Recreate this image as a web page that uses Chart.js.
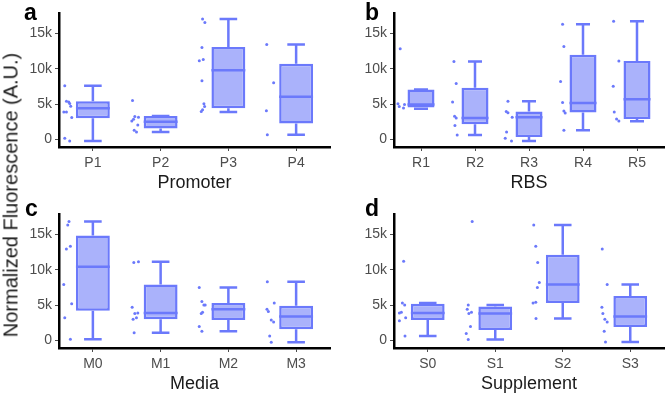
<!DOCTYPE html>
<html>
<head>
<meta charset="utf-8">
<script src="https://cdn.jsdelivr.net/npm/chart.js@4"></script>
<style>
  html, body { margin: 0; padding: 0; background: #fff; width: 668px; height: 396px; overflow: hidden; }
  body { position: relative; font-family: "Liberation Sans", Arial, sans-serif; }
  canvas { position: absolute; }
  .tag { position: absolute; font-weight: bold; font-size: 23px; line-height: 1; color: #000; }
  #ytitle { position: absolute; left: 11px; top: 195px; transform: translate(-50%, -50%) rotate(-90deg);
            white-space: nowrap; font-size: 20px; color: #1a1a1a; }
</style>
</head>
<body>
<canvas id="ca" width="314" height="198" style="left:20px;top:0px"></canvas>
<canvas id="cb" width="313" height="198" style="left:355px;top:0px"></canvas>
<canvas id="cc" width="314" height="198" style="left:20px;top:201px"></canvas>
<canvas id="cd" width="313" height="198" style="left:355px;top:201px"></canvas>
<div class="tag" style="left:24px;top:1px">a</div>
<div class="tag" style="left:365px;top:1px">b</div>
<div class="tag" style="left:25px;top:197px">c</div>
<div class="tag" style="left:365px;top:197px">d</div>
<div id="ytitle">Normalized Fluorescence (A.U.)</div>
<script>
// ---------------- data ----------------
const yTickValues = [0, 5000, 10000, 15000];
const yTickLabels = ["0", "5k", "10k", "15k"];

const promoterLabels = ["P1", "P2", "P3", "P4"];
const promoterMin    = [-200, 1050, 3900, 670];
const promoterQ1     = [3000, 1570, 4430, 2280];
const promoterMedian = [4400, 2520, 9760, 6050];
const promoterQ3     = [5400, 3330, 13040, 10700];
const promoterMax    = [7600, 3330, 17000, 13400];
const promoterPoints = [
  [7600, 5400, 5300, 5100, 4700, 3900, 3900, 3100, 200, -200],
  [5500, 3240, 3140, 2860, 2620, 2050, 1330, 1050],
  [17000, 16500, 13000, 11300, 11100, 8300, 5050, 4660, 4190, 3950],
  [13400, 8000, 4050, 670]
];
const promoterJitter = [
  [-0.415, -0.39, -0.356, -0.342, -0.327, -0.429, -0.39, -0.312, -0.415, -0.342],
  [-0.415, -0.381, -0.327, -0.40, -0.425, -0.337, -0.39, -0.356],
  [-0.381, -0.347, -0.39, -0.371, -0.429, -0.39, -0.361, -0.351, -0.381, -0.40],
  [-0.434, -0.332, -0.439, -0.425]
];

const rbsLabels = ["R1", "R2", "R3", "R4", "R5"];
const rbsMin    = [4350, 650, -190, 1310, 2570];
const rbsQ1     = [4530, 2150, 370, 3830, 2900];
const rbsMedian = [4950, 3040, 3130, 5140, 5700];
const rbsQ3     = [7060, 7300, 3970, 11960, 11070];
const rbsMax    = [7060, 11000, 5420, 16260, 16680];
const rbsPoints = [
  [12800, 5050, 4950, 4670, 4440],
  [11000, 7900, 5280, 3270, 3040, 2000, 650],
  [5420, 3970, 3790, 3130, 1070, 190, -190],
  [16260, 13130, 8180, 5230, 4020, 3740, 1310],
  [16680, 11070, 7520, 3880, 2900, 2620]
];
const rbsJitter = [
  [-0.385, -0.427, -0.305, -0.403, -0.324],
  [-0.39, -0.348, -0.415, -0.378, -0.348, -0.372, -0.33],
  [-0.39, -0.421, -0.39, -0.311, -0.415, -0.44, -0.324],
  [-0.378, -0.354, -0.415, -0.378, -0.354, -0.33, -0.354],
  [-0.433, -0.336, -0.44, -0.421, -0.378, -0.336]
];

const mediaLabels = ["M0", "M1", "M2", "M3"];
const mediaMin    = [200, 1100, 1300, -240];
const mediaQ1     = [4200, 3000, 2900, 1600];
const mediaMedian = [10400, 3900, 4400, 3400];
const mediaQ3     = [14800, 7900, 5300, 4900];
const mediaMax    = [16800, 11100, 7500, 8300];
const mediaPoints = [
  [16800, 16300, 13300, 12900, 7900, 5200, 3200, 200],
  [11000, 11100, 4700, 3800, 3900, 3000, 3200, 1100],
  [7500, 5500, 5000, 5000, 4000, 3800, 2000, 1300],
  [8300, 5300, 4400, 4100, 2900, 2600, 660, -240]
];
const mediaJitter = [
  [-0.352, -0.371, -0.332, -0.391, -0.43, -0.313, -0.415, -0.332],
  [-0.396, -0.327, -0.42, -0.381, -0.337, -0.406, -0.357, -0.391],
  [-0.43, -0.391, -0.362, -0.342, -0.381, -0.40, -0.43, -0.391],
  [-0.425, -0.323, -0.43, -0.41, -0.367, -0.332, -0.39, -0.367]
];

const supplementLabels = ["S0", "S1", "S2", "S3"];
const supplementMin    = [660, 140, 3100, -200];
const supplementQ1     = [2900, 1500, 5300, 1900];
const supplementMedian = [3900, 3800, 7900, 3400];
const supplementQ3     = [5200, 4800, 12100, 6300];
const supplementMax    = [5300, 5000, 16300, 7900];
const supplementPoints = [
  [11200, 5300, 5000, 4000, 3900, 3200, 2800, 660],
  [16800, 5000, 4400, 4000, 3800, 2000, 1000, 140],
  [16300, 13300, 11000, 8200, 7500, 5400, 5300, 3100],
  [12900, 7900, 4700, 3800, 3000, 2600, 1300, -200]
];
const supplementJitter = [
  [-0.357, -0.376, -0.342, -0.391, -0.42, -0.327, -0.42, -0.337],
  [-0.342, -0.40, -0.415, -0.352, -0.391, -0.367, -0.43, -0.40],
  [-0.43, -0.40, -0.371, -0.347, -0.376, -0.40, -0.44, -0.396],
  [-0.415, -0.342, -0.42, -0.406, -0.376, -0.342, -0.386, -0.367]
];

// ---------------- styling ----------------
const STROKE = "#6b79fb";
const FILL = "#aab2fb";
const BOX_WIDTH = 0.5;
const CAP_HALF = 0.13;
const Y_MIN = -1050, Y_MAX = 17850;

Chart.defaults.font.family = "'Liberation Sans', Arial, sans-serif";

function makePanel(id, title, labels, mn, q1, med, q3, mx, pts, jit) {
  const boxes = labels.map((_, i) => ({ x: i, y: [q1[i], q3[i]] }));
  const lines = [];
  labels.forEach((_, i) => {
    lines.push({ x: i, y: q3[i] }, { x: i, y: mx[i] }, { x: i, y: null });
    lines.push({ x: i, y: q1[i] }, { x: i, y: mn[i] }, { x: i, y: null });
    lines.push({ x: i - CAP_HALF, y: mx[i] }, { x: i + CAP_HALF, y: mx[i] }, { x: i, y: null });
    lines.push({ x: i - CAP_HALF, y: mn[i] }, { x: i + CAP_HALF, y: mn[i] }, { x: i, y: null });
    lines.push({ x: i - BOX_WIDTH / 2, y: med[i] }, { x: i + BOX_WIDTH / 2, y: med[i] }, { x: i, y: null });
  });
  const dots = [];
  pts.forEach((arr, i) => arr.forEach((v, k) => dots.push({ x: i + jit[i][k], y: v })));

  new Chart(document.getElementById(id), {
    type: "bar",
    data: {
      datasets: [
        { type: "scatter", data: dots, pointRadius: 1.5, pointBackgroundColor: STROKE,
          pointBorderWidth: 0, order: 3 },
        { type: "bar", data: boxes, backgroundColor: FILL, borderColor: STROKE, borderWidth: 2.5,
          borderSkipped: false, barPercentage: BOX_WIDTH, categoryPercentage: 1, order: 2 },
        { type: "line", data: lines, borderColor: STROKE, borderWidth: 2.5, pointRadius: 0,
          spanGaps: false, fill: false, tension: 0, borderCapStyle: "butt", order: 1 }
      ]
    },
    options: {
      responsive: false, animation: false, devicePixelRatio: 1,
      layout: { padding: { left: 0, right: 1.5, top: 13, bottom: 0 } },
      plugins: { legend: { display: false }, tooltip: { enabled: false } },
      scales: {
        x: {
          type: "linear", min: -0.5, max: labels.length - 0.5, offset: false,
          afterBuildTicks: s => { s.ticks = labels.map((_, i) => ({ value: i })); },
          afterFit: s => { s.height = 51; },
          ticks: { callback: v => labels[v], color: "#4d4d4d", font: { size: 14 }, padding: 4, maxRotation: 0 },
          grid: { offset: false, drawOnChartArea: false, drawTicks: true, tickLength: 4, color: "#4d4d4d", lineWidth: 1 },
          border: { display: true, color: "#000", width: 2.5 },
          title: { display: true, text: title, color: "#1a1a1a", font: { size: 18 }, padding: { top: 0, bottom: 4 } }
        },
        y: {
          type: "linear", min: Y_MIN, max: Y_MAX,
          afterBuildTicks: s => { s.ticks = yTickValues.map(v => ({ value: v })); },
          afterFit: s => { s.width = 39; },
          ticks: { callback: (v) => yTickLabels[yTickValues.indexOf(v)], color: "#4d4d4d", font: { size: 14 }, padding: 3 },
          grid: { drawOnChartArea: false, drawTicks: true, tickLength: 4, color: "#4d4d4d", lineWidth: 1 },
          border: { display: true, color: "#000", width: 2.5 }
        }
      }
    }
  });
}

makePanel("ca", "Promoter", promoterLabels, promoterMin, promoterQ1, promoterMedian, promoterQ3, promoterMax, promoterPoints, promoterJitter);
makePanel("cb", "RBS", rbsLabels, rbsMin, rbsQ1, rbsMedian, rbsQ3, rbsMax, rbsPoints, rbsJitter);
makePanel("cc", "Media", mediaLabels, mediaMin, mediaQ1, mediaMedian, mediaQ3, mediaMax, mediaPoints, mediaJitter);
makePanel("cd", "Supplement", supplementLabels, supplementMin, supplementQ1, supplementMedian, supplementQ3, supplementMax, supplementPoints, supplementJitter);
</script>
</body>
</html>
